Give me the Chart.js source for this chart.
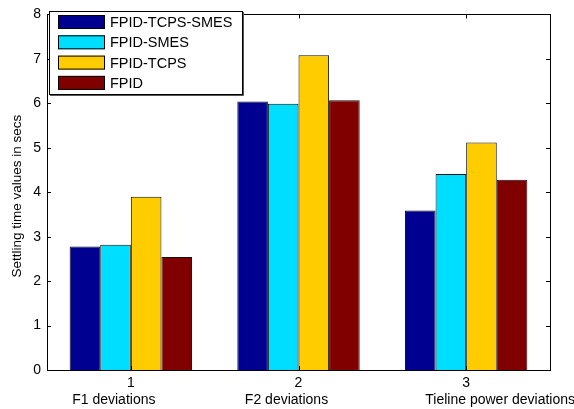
<!DOCTYPE html>
<html>
<head>
<meta charset="utf-8">
<script src="https://cdn.jsdelivr.net/npm/chart.js@4/dist/chart.umd.min.js"></script>
<style>
  html, body { margin: 0; padding: 0; background: #ffffff; }
  #wrap { width: 574px; height: 409px; position: relative; }
</style>
</head>
<body>
<div id="wrap"><canvas id="c" width="574" height="409"></canvas></div>
<script>
// Categories and their descriptive captions
const categories = ['1', '2', '3'];
const captions = ['F1 deviations', 'F2 deviations', 'Tieline power deviations'];

// Settling time (s) for each controller scheme
const seriesNames = ['FPID-TCPS-SMES', 'FPID-SMES', 'FPID-TCPS', 'FPID'];
const fpidTcpsSmes = [2.78, 6.04, 3.59];
const fpidSmes     = [2.82, 5.99, 4.41];
const fpidTcps     = [3.90, 7.08, 5.12];
const fpid         = [2.54, 6.07, 4.28];

// Y axis range and tick step
const yMin = 0, yMax = 8, yStep = 1;

const colors = ['#000090', '#00DEFF', '#FFCC00', '#800000'];
const seriesValues = [fpidTcpsSmes, fpidSmes, fpidTcps, fpid];

const FONT = 'Liberation Sans, Arial, sans-serif';

// Horizontal shift (px) of each caption relative to its tick
const captionShift = [-17, -12, 34];

const framePlugin = {
  id: 'frame',
  afterDraw(chart) {
    const ctx = chart.ctx;
    const a = chart.chartArea;
    const xs = chart.scales.x, ys = chart.scales.y;
    ctx.save();
    ctx.strokeStyle = '#000000';
    ctx.lineWidth = 1;
    ctx.strokeRect(Math.round(a.left) + 0.5, Math.round(a.top) + 0.5,
                   Math.round(a.right - a.left), Math.round(a.bottom - a.top));
    // inward tick marks
    ctx.beginPath();
    for (let v = yMin; v <= yMax; v += yStep) {
      const y = Math.round(ys.getPixelForValue(v)) + 0.5;
      ctx.moveTo(a.left, y); ctx.lineTo(a.left + 4, y);
      ctx.moveTo(a.right, y); ctx.lineTo(a.right - 4, y);
    }
    for (let i = 0; i < categories.length; i++) {
      const x = Math.round(xs.getPixelForValue(i)) + 0.5;
      ctx.moveTo(x, a.bottom); ctx.lineTo(x, a.bottom - 4);
      ctx.moveTo(x, a.top); ctx.lineTo(x, a.top + 4);
    }
    ctx.stroke();

    // captions below the category numbers
    ctx.fillStyle = '#000000';
    ctx.font = '14px ' + FONT;
    ctx.textAlign = 'center';
    ctx.textBaseline = 'middle';
    captions.forEach((t, i) => {
      ctx.fillText(t, xs.getPixelForValue(i) + captionShift[i], 400);
    });

    // y axis title
    ctx.save();
    ctx.translate(17, (a.top + a.bottom) / 2 + 4);
    ctx.rotate(-Math.PI / 2);
    ctx.font = '13.5px ' + FONT;
    ctx.fillText('Settling time values in secs', 0, 0);
    ctx.restore();

    // legend box
    const lx = 49, ly = 11, lw = 193, lh = 83;
    ctx.fillStyle = '#ffffff';
    ctx.fillRect(lx, ly, lw, lh);
    ctx.strokeStyle = '#000000';
    ctx.strokeRect(lx + 0.5, ly + 0.5, lw, lh);
    ctx.strokeStyle = '#555555';
    ctx.beginPath();
    ctx.moveTo(lx + lw + 1.5, ly + 1); ctx.lineTo(lx + lw + 1.5, ly + lh + 1.5);
    ctx.lineTo(lx + 1, ly + lh + 1.5);
    ctx.stroke();
    chart.data.datasets.forEach((ds, i) => {
      const cy = 22 + i * 20.3;
      ctx.fillStyle = ds.backgroundColor;
      ctx.fillRect(58, cy - 7, 47, 14);
      ctx.strokeStyle = '#000000';
      ctx.strokeRect(58.5, cy - 6.5, 46, 13);
      ctx.fillStyle = '#000000';
      ctx.textAlign = 'left';
      ctx.font = '14.5px ' + FONT;
      ctx.fillText(ds.label, 110, cy + 1);
    });
    ctx.restore();
  }
};

new Chart(document.getElementById('c'), {
  type: 'bar',
  data: {
    labels: categories,
    datasets: seriesNames.map((name, i) => ({
      label: name,
      data: seriesValues[i],
      backgroundColor: colors[i],
      borderColor: '#111111',
      borderWidth: 1,
      categoryPercentage: 0.73,
      barPercentage: 1.0
    }))
  },
  options: {
    responsive: false,
    animation: false,
    devicePixelRatio: 1,
    layout: { padding: { top: 7, right: 24, left: 0, bottom: 0 } },
    plugins: { legend: { display: false }, tooltip: { enabled: false } },
    scales: {
      x: {
        grid: { display: false, drawTicks: false },
        border: { display: false },
        ticks: { color: '#000000', font: { size: 14, family: FONT }, padding: 5, maxRotation: 0 },
        afterFit(s) { s.height = 39; }
      },
      y: {
        min: yMin, max: yMax,
        grid: { display: false, drawTicks: false },
        border: { display: false },
        ticks: { stepSize: yStep, color: '#000000', font: { size: 14, family: FONT }, padding: 6 },
        afterFit(s) { s.width = 47; }
      }
    }
  },
  plugins: [framePlugin]
});
</script>
</body>
</html>
